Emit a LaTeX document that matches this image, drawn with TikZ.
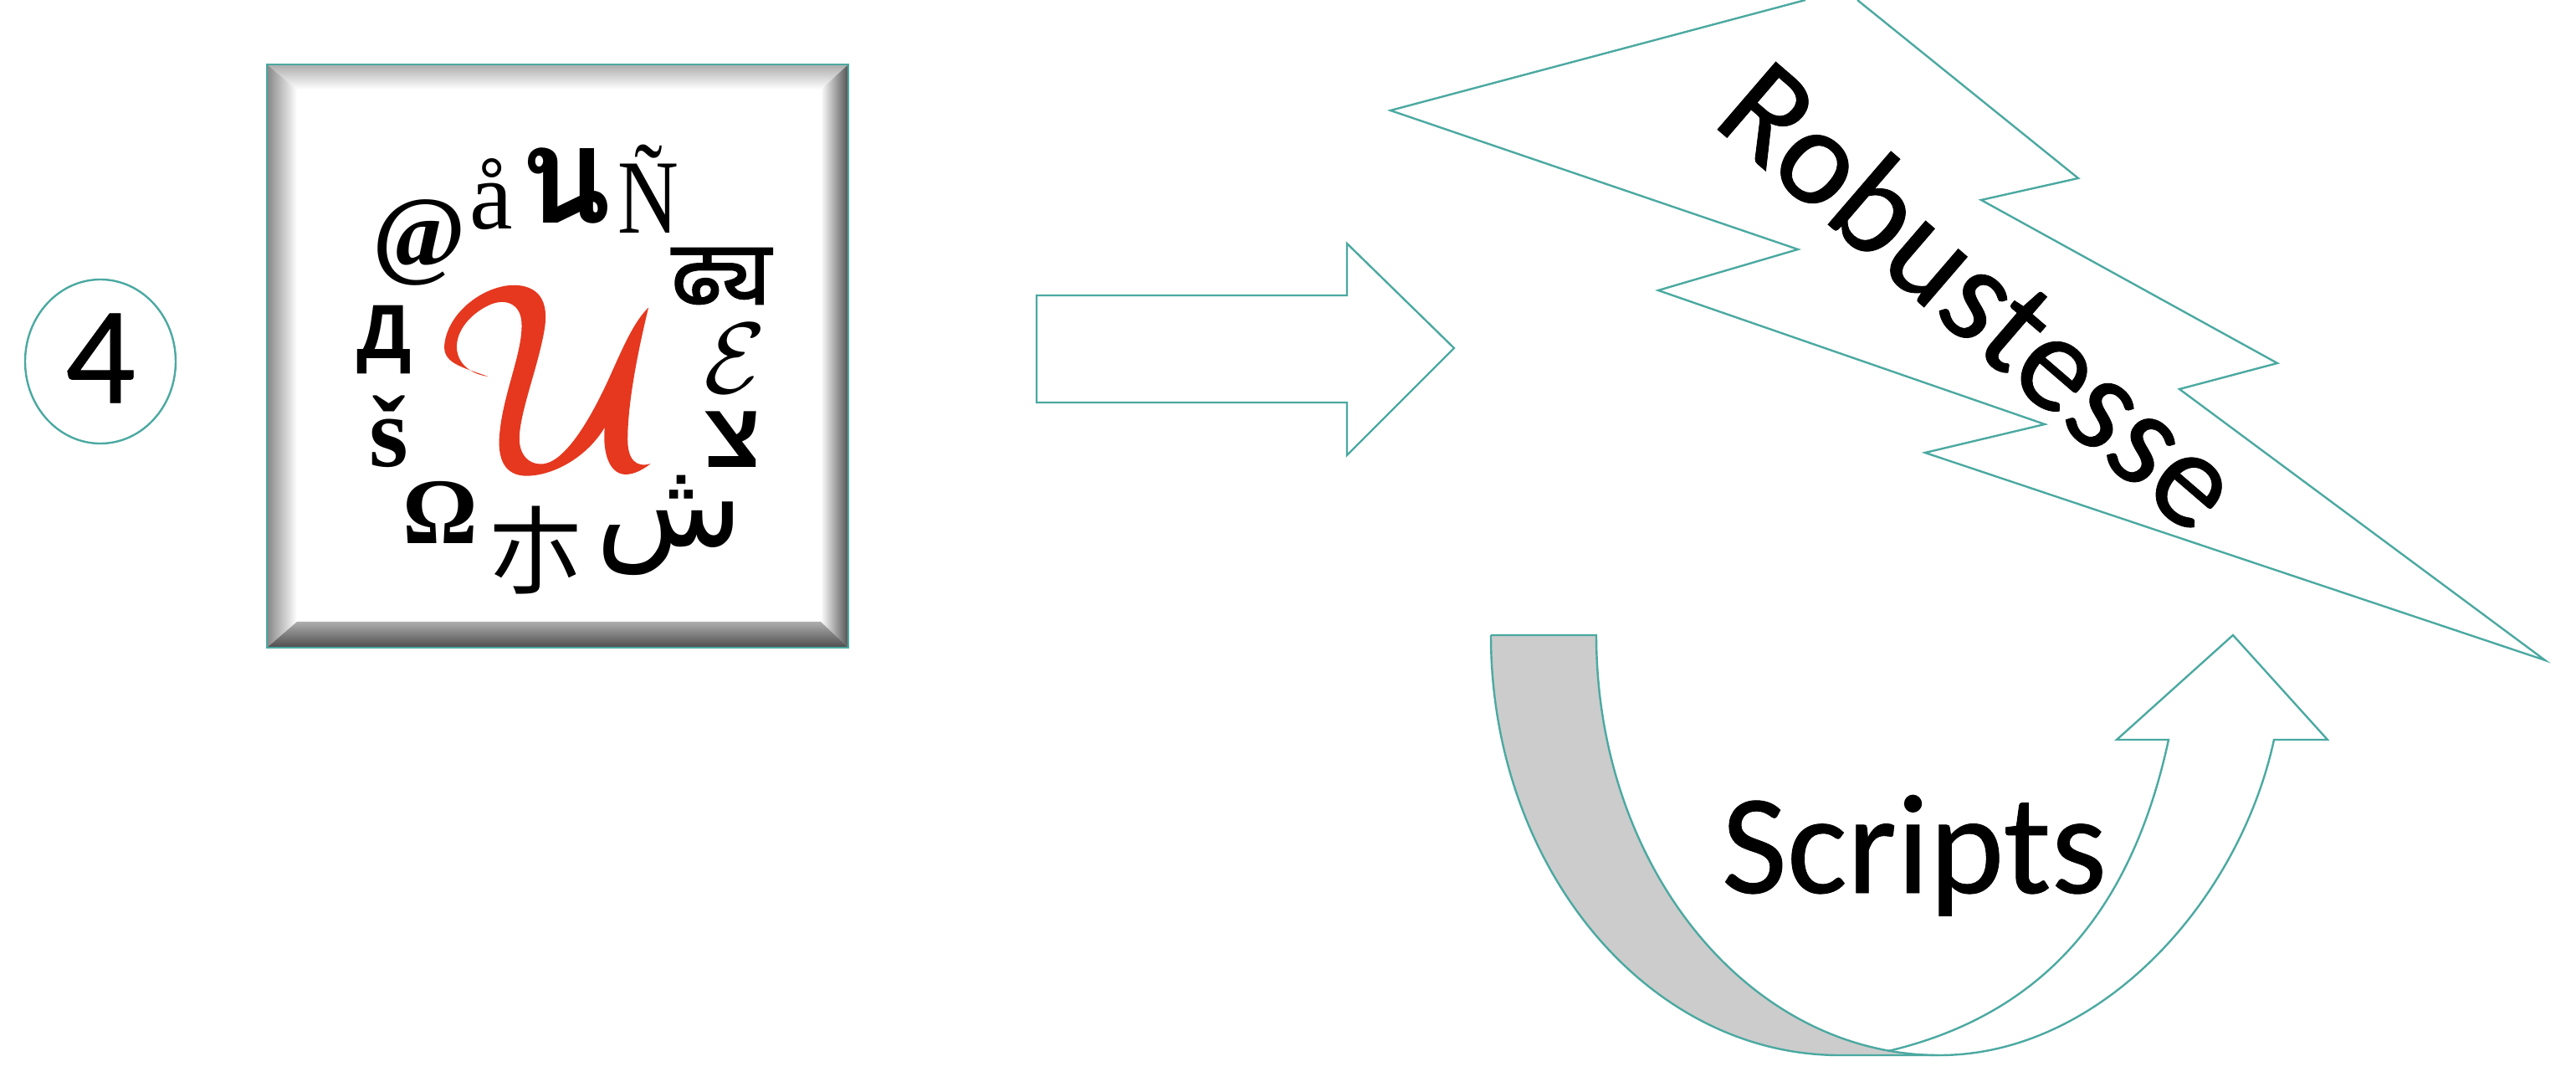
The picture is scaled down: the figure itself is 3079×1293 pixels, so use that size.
\documentclass[tikz,border=0pt]{standalone}
\usepackage{fontspec}
\usepackage{graphicx}
\usetikzlibrary{shapes.geometric}
\setmainfont{Carlito}
\newfontfamily\bigfont[FakeBold=0.5]{Carlito}
\newfontfamily\lsans{Liberation Sans}
\newfontfamily\lserif{Liberation Serif}
\newfontfamily\arabfont[Script=Arabic]{DejaVu Sans}
\newfontfamily\hebfont[Script=Hebrew]{Liberation Sans}
\newfontfamily\devfont[Script=Devanagari,FakeBold=1.5]{Noto Sans}
\newfontfamily\thaifont[Script=Thai]{Loma}
\newfontfamily\cjkfont{Noto Sans CJK SC}
\TeXXeTstate=1
\definecolor{teal1}{HTML}{4BA9A1}
\definecolor{uRed}{HTML}{E5381F}
\newcommand{\fs}[1]{\fontsize{#1pt}{#1pt}\selectfont}
\tikzset{
  x=0.5pt,y=-0.5pt,
  shapeline/.style={draw=teal1,line width=1.2pt,line join=miter},
  glyph/.style={inner sep=0pt,outer sep=0pt,text=black},
}
\begin{document}
\begin{tikzpicture}
\useasboundingbox (0,0) rectangle (3079,1293);
% numbered circle
\node[shapeline,ellipse,inner sep=0pt,minimum width=90pt,minimum height=98pt] (circ) at (120,432) {};
\node[glyph,font=\bigfont\fs{83}] (num) at (120,428) {4};
% bevel
\coordinate (o1) at (319,77); \coordinate (o2) at (1014,77);
\coordinate (o3) at (1014,774); \coordinate (o4) at (319,774);
\coordinate (i1) at (355,107); \coordinate (i2) at (981,107);
\coordinate (i3) at (981,743); \coordinate (i4) at (355,743);
\fill[white] (o1) -- (o2) -- (o3) -- (o4) -- cycle;
\shade[top color=gray!65!white,bottom color=white] (o1) -- (o2) -- (i2) -- (i1) -- cycle;
\shade[left color=gray!95!white,right color=white] (o1) -- (i1) -- (i4) -- (o4) -- cycle;
\shade[left color=white,right color=black!68] (o2) -- (o3) -- (i3) -- (i2) -- cycle;
\shade[top color=black!32,bottom color=black!70] (o4) -- (i4) -- (i3) -- (o3) -- cycle;
\draw[shapeline] (o1) -- (o2) -- (o3) -- (o4) -- cycle;
% logo glyphs
\node[glyph,font=\lserif\bfseries\fs{60}] (g1) at (501,290) {@};
\node[glyph,font=\lserif\fs{58}] (g2) at (587,232) {å};
\node[glyph,font=\thaifont\bfseries\fs{80}] (g3) at (676,222) {น};
\node[glyph,font=\lserif\fs{63}] (g4) at (775,226) {\scalebox{0.8}[1]{Ñ}};
\node[glyph,font=\devfont\fs{54}] (g5) at (862,330) {ढ्य};
\node[glyph] (g6) at (879,428) {\scalebox{2.9}{\fs{20}$\mathcal{E}$}};
\node[glyph,font=\hebfont\bfseries\fs{55}] (g7) at (876,525) {\beginR צ\endR};
\node[glyph,font=\arabfont\fs{72}] (g8) at (800,628) {\beginR ش\endR};
\node[glyph,font=\cjkfont\fs{58}] (g9) at (640,658) {朩};
\node[glyph,font=\lserif\bfseries\fs{56}] (g10) at (526,612) {Ω};
\node[glyph,font=\lserif\bfseries\fs{60}] (g11) at (465,516) {š};
\node[glyph,font=\lsans\bfseries\fs{46}] (g12) at (459,406) {Д};
% calligraphic red U of the logo, drawn in the crop's coordinates
\begin{scope}[x=0.2488pt,y=-0.2424pt,shift={(140pt,-25pt)}]
\fill[uRed] (610,825) .. controls (540,800) and (500,790) .. (505,745)
  .. controls (515,660) and (610,595) .. (680,600)
  .. controls (740,605) and (755,650) .. (745,710)
  .. controls (730,800) and (690,900) .. (685,970)
  .. controls (682,1020) and (710,1045) .. (745,1040)
  .. controls (800,1030) and (860,920) .. (900,830)
  .. controls (935,750) and (960,690) .. (995,655)
  .. controls (975,740) and (945,880) .. (945,980)
  .. controls (945,1030) and (965,1050) .. (1000,1040)
  .. controls (975,1060) and (950,1070) .. (930,1065)
  .. controls (895,1055) and (885,1000) .. (890,950)
  .. controls (850,1020) and (770,1070) .. (700,1070)
  .. controls (650,1068) and (630,1030) .. (638,960)
  .. controls (648,860) and (695,760) .. (690,690)
  .. controls (687,645) and (650,630) .. (610,650)
  .. controls (560,675) and (530,720) .. (535,760)
  .. controls (540,800) and (575,820) .. (610,825) -- cycle;
\end{scope}
% block arrow
\draw[shapeline] (1239,353) -- (1610,353) -- (1610,291) -- (1738,416) -- (1610,544) -- (1610,481) -- (1239,481) -- cycle;
% lightning
\draw[shapeline] (2158,0) -- (1662,132) -- (2149,298) -- (1982,347) -- (2444,507) -- (2301,541) -- (3042,789) -- (2605,465) -- (2722,434) -- (2368,239) -- (2484,213) -- (2220,0);
\node[glyph,font=\bigfont\fs{83},rotate=-40.7,anchor=base west] (rob) at (2044,147) {Robustesse};
% curved arrow
\fill[black!20] (1782,759) .. controls (1782,1036) and (1969,1261) .. (2199,1261) -- (2318,1261) .. controls (2090,1261) and (1908,1036) .. (1908,759) -- cycle;
\draw[shapeline] (1782,759) .. controls (1782,1036) and (1969,1261) .. (2199,1261) -- (2318,1261)
  .. controls (2510,1261) and (2676,1078) .. (2718,884) -- (2782,884) -- (2669,759) -- (2530,884) -- (2592,884)
  .. controls (2550,1078) and (2451,1210) .. (2257,1256);
\draw[shapeline] (1782,759) -- (1908,759) .. controls (1908,1036) and (2090,1261) .. (2318,1261);
\node[glyph,font=\bigfont\fs{85},anchor=base] (scr) at (2288,1067) {Scripts};
\end{tikzpicture}
\end{document}
